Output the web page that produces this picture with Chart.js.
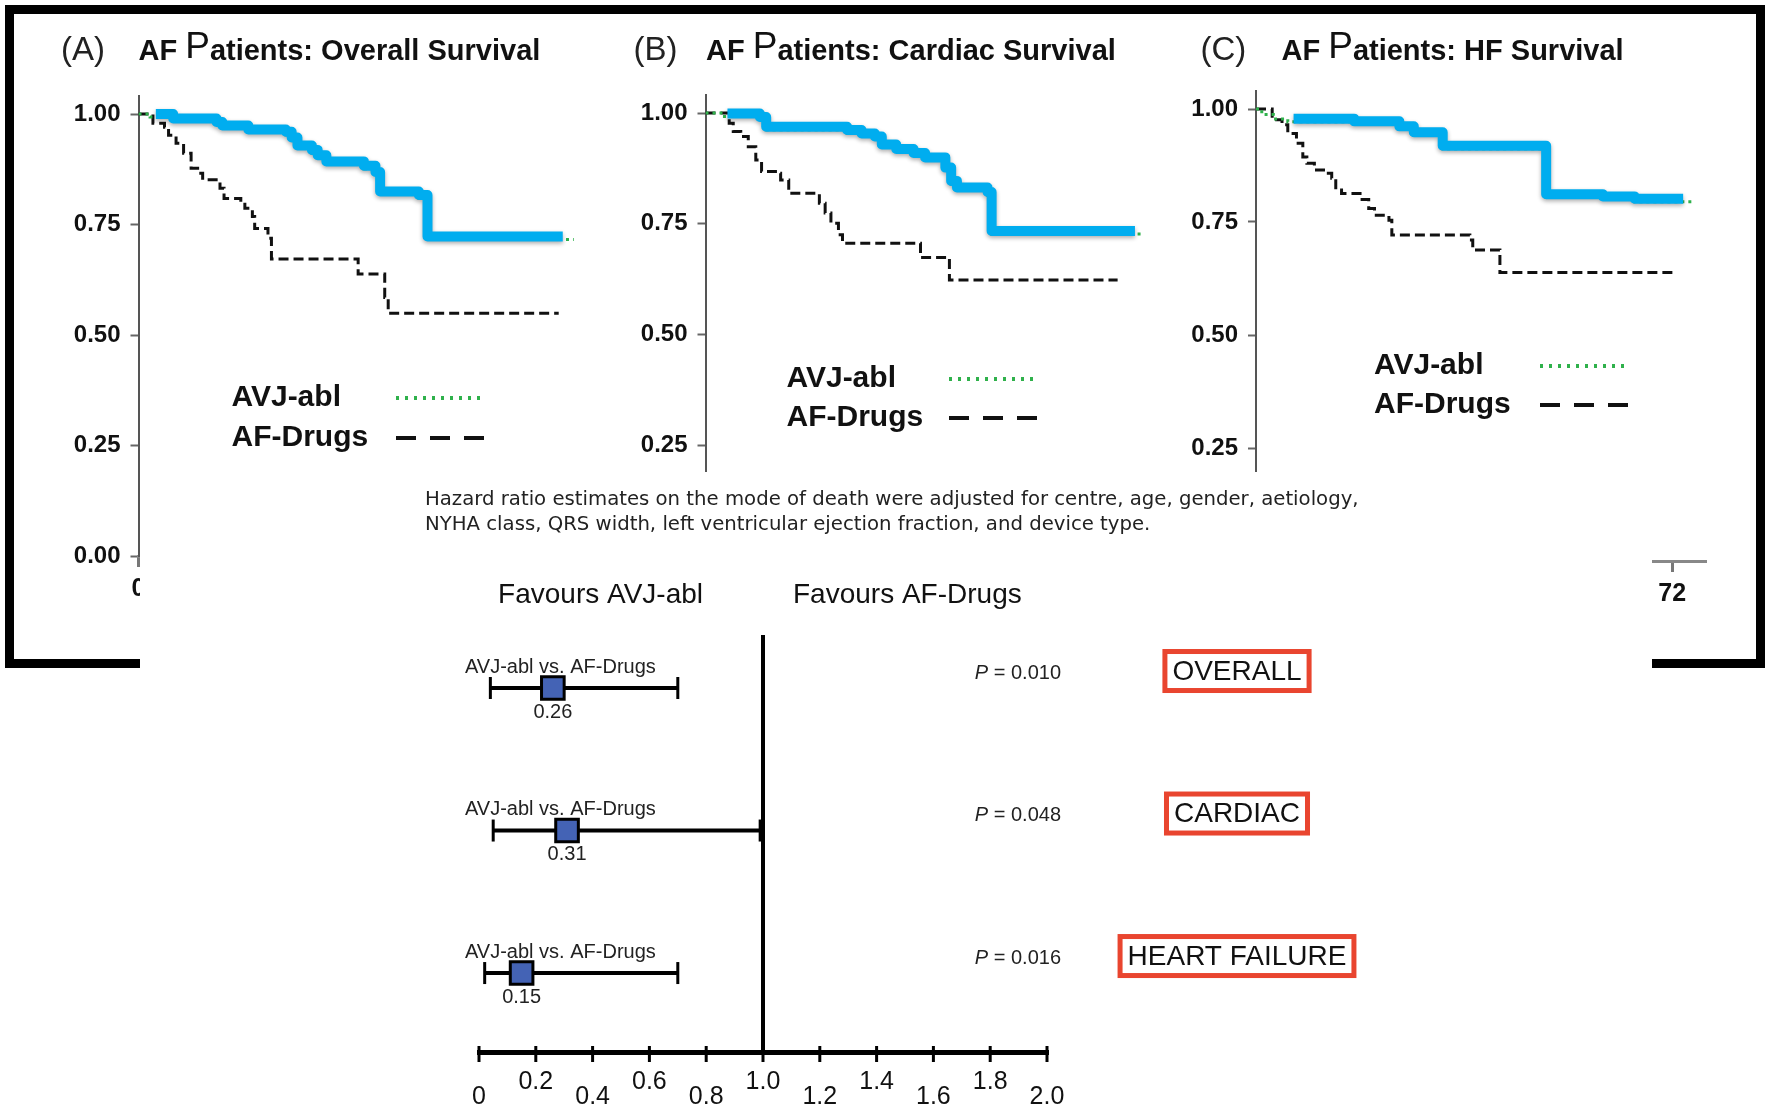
<!DOCTYPE html>
<html>
<head>
<meta charset="utf-8">
<script src="https://cdn.jsdelivr.net/npm/chart.js@4.4.1/dist/chart.umd.min.js"></script>
<style>
  html, body { margin: 0; padding: 0; background: #fff; }
  body { width: 1765px; height: 1111px; position: relative; overflow: hidden; }
  canvas { position: absolute; left: 0; top: 0; }
  .km { z-index: 1; }
  #frame { position: absolute; left: 5px; top: 5px; width: 1760px; height: 663px;
           border: 9px solid #000; box-sizing: border-box; z-index: 2; }
  #inset { position: absolute; left: 140px; top: 472px; width: 1512px; height: 639px;
           background: #fff; z-index: 3; }
  #forest { z-index: 4; }
</style>
</head>
<body>
<canvas id="km-a" class="km" width="1765" height="1111"></canvas>
<canvas id="km-b" class="km" width="1765" height="1111"></canvas>
<canvas id="km-c" class="km" width="1765" height="1111"></canvas>
<div id="frame"></div>
<div id="inset"></div>
<canvas id="forest" width="1765" height="1111"></canvas>
<script>
// ---------- Kaplan-Meier curves: [month, survival] at each step ----------
const overallAvj = [[0,1.0],[2,0.993],[6,0.983],[13.5,0.975],[14.5,0.967],[19,0.958],[25.5,0.953],
  [26.5,0.94],[27.5,0.922],[30,0.912],[31,0.90],[32.5,0.886],[39,0.876],[41,0.862],[41.8,0.818],
  [48.5,0.81],[50,0.716],[75.3,0.716]];
const overallDrugs = [[0,1.0],[2.5,0.979],[4.5,0.97],[5.2,0.952],[6.5,0.934],[7.8,0.911],[9.1,0.877],
  [10.5,0.866],[11.1,0.851],[14.1,0.832],[14.8,0.809],[17.7,0.80],[18.4,0.787],[19.7,0.768],[20.1,0.741],
  [22.4,0.719],[23,0.672],[38,0.638],[42.6,0.585],[43.2,0.549],[72.7,0.549]];
const cardiacAvj = [[0,1.0],[3,0.992],[9.4,0.984],[10.5,0.962],[24.5,0.955],[27,0.947],[29.3,0.94],
  [30.5,0.922],[33,0.912],[36,0.903],[38,0.893],[41.5,0.87],[42.5,0.84],[43.5,0.825],[48.8,0.815],
  [49.5,0.727],[75.6,0.727]];
const cardiacDrugs = [[0,1.0],[4.1,0.977],[4.8,0.958],[6.1,0.947],[7.4,0.924],[8.7,0.894],[9.7,0.868],
  [12.1,0.864],[13,0.849],[14.4,0.819],[19.7,0.796],[20.7,0.774],[21.7,0.751],[23,0.725],[23.7,0.706],
  [37.2,0.674],[42.2,0.623],[71.3,0.623]];
const hfAvj = [[0,1.0],[1,0.988],[3,0.978],[5.5,0.972],[17,0.966],[24.8,0.955],[27.3,0.942],[32.3,0.912],
  [50.2,0.805],[60,0.80],[65.5,0.795],[75.9,0.795]];
const hfDrugs = [[0,1.0],[2.8,0.976],[4.5,0.965],[5.5,0.946],[7,0.924],[8.1,0.894],[8.8,0.88],[10.1,0.865],
  [12.1,0.858],[13.1,0.847],[13.8,0.821],[14.8,0.813],[18,0.80],[19.5,0.78],[20.5,0.765],[23,0.754],
  [23.5,0.721],[37,0.71],[37.5,0.688],[42.2,0.638],[72.2,0.638]];

// months covered by the highlighted AVJ-abl trace in each panel
const overallHighlight = [3, 73.4];
const cardiacHighlight = [3.8, 74.3];
const hfHighlight = [6.5, 73.9];

const panelTags = ['(A)', '(B)', '(C)'];
const panelTitles = ['AF Patients: Overall Survival', 'AF Patients: Cardiac Survival', 'AF Patients: HF Survival'];
const seriesNames = ['AVJ-abl', 'AF-Drugs'];
const monthMax = 78;
const monthStep = 12;
const survivalMax = 1.04;
const survivalStep = 0.25;

// ---------- Hazard ratios ----------
const endpoints = ['OVERALL', 'CARDIAC', 'HEART FAILURE'];
const comparison = 'AVJ-abl vs. AF-Drugs';
const hazardRatio = [0.26, 0.31, 0.15];
const ciLow = [0.04, 0.05, 0.02];
const ciHigh = [0.70, 0.99, 0.70];
const pValues = ['0.010', '0.048', '0.016'];
const favourLabels = ['Favours AVJ-abl', 'Favours AF-Drugs'];
const hrMax = 2.0;
const hrStep = 0.2;
const captionLines = [
  'Hazard ratio estimates on the mode of death were adjusted for centre, age, gender, aetiology,',
  'NYHA class, QRS width, left ventricular ejection fraction, and device type.'
];

// ---------- styling ----------
const FAMILY = "'Liberation Sans', Arial, Helvetica, sans-serif";
const NOTE_FAMILY = "'DejaVu Sans', Verdana, sans-serif";
const BLUE = '#00adef';
const GREEN = '#2fb14b';
const INK = '#111';
Chart.defaults.font.family = FAMILY;

// step path: hold the previous survival until each event time
function stepPath(series) {
  const pts = [];
  series.forEach(([t, s], i) => {
    if (i > 0) pts.push({ x: t, y: series[i - 1][1] });
    pts.push({ x: t, y: s });
  });
  return pts;
}
// part of a step curve between two months
function clipSeries(series, [t0, t1]) {
  const valueAt = t => { let v = series[0][1]; series.forEach(([x, y]) => { if (x <= t) v = y; }); return v; };
  const out = [[t0, valueAt(t0)]];
  series.forEach(([x, y]) => { if (x > t0 && x < t1) out.push([x, y]); });
  out.push([t1, valueAt(t1)]);
  return out;
}

const panelTitle = {
  id: 'panelTitle',
  afterDraw(chart, args, o) {
    const { ctx, chartArea } = chart;
    ctx.save();
    ctx.textBaseline = 'alphabetic';
    ctx.textAlign = 'left';
    ctx.fillStyle = '#222';
    ctx.font = `33px ${FAMILY}`;
    ctx.fillText(o.tag, chartArea.left + o.tagDx, o.baseline);
    const t = o.title;
    const parts = [
      { text: t.slice(0, 3), font: `bold 29px ${FAMILY}`, dy: 0 },
      { text: t.slice(3, 4), font: `37px ${FAMILY}`, dy: -2 },
      { text: t.slice(4), font: `bold 29px ${FAMILY}`, dy: 0 }
    ];
    let x = chartArea.left + o.titleDx;
    ctx.fillStyle = INK;
    parts.forEach(p => {
      ctx.font = p.font;
      ctx.fillText(p.text, x, o.baseline + p.dy);
      x += ctx.measureText(p.text).width;
    });
    ctx.restore();
  }
};

const kmLegend = {
  id: 'kmLegend',
  afterDraw(chart, args, o) {
    const { ctx, chartArea } = chart;
    const x0 = chartArea.left + o.dx;
    const samples = [
      { ds: chart.data.datasets[1], dash: [3, 6] },
      { ds: chart.data.datasets[2], dash: [20, 14] }
    ];
    ctx.save();
    samples.forEach((s, i) => {
      const y = o.top + i * o.gap;
      ctx.font = `bold 30px ${FAMILY}`;
      ctx.fillStyle = INK;
      ctx.textBaseline = 'middle';
      ctx.textAlign = 'left';
      ctx.fillText(s.ds.label, x0, y);
      ctx.beginPath();
      ctx.setLineDash(s.dash);
      ctx.lineWidth = 4;
      ctx.strokeStyle = s.ds.borderColor;
      ctx.moveTo(x0 + o.sampleDx, y);
      ctx.lineTo(x0 + o.sampleDx + 90, y);
      ctx.stroke();
    });
    ctx.restore();
  }
};

// the highlighted AVJ-abl trace sits slightly above the dotted curve, with a soft shadow
const highlightShadow = {
  id: 'highlightShadow',
  beforeDatasetDraw(chart, args) {
    if (args.index !== 0) return;
    const c = chart.ctx;
    c.save();
    c.translate(0, -3);
    c.shadowColor = 'rgba(0,0,0,0.32)';
    c.shadowBlur = 4;
    c.shadowOffsetY = 2;
  },
  afterDatasetDraw(chart, args) {
    if (args.index !== 0) return;
    chart.ctx.restore();
  }
};

function kmChart(id, g) {
  const right = g.axisX + g.pxPerMonth * monthMax;
  const yTop = g.zeroY - g.unitPx * survivalMax;
  return new Chart(document.getElementById(id), {
    type: 'line',
    data: {
      datasets: [
        { label: seriesNames[0] + ' highlight', data: stepPath(clipSeries(g.avj, g.span)),
          borderColor: BLUE, borderWidth: 10, borderJoinStyle: 'round', borderCapStyle: 'butt',
          pointRadius: 0, fill: false },
        { label: seriesNames[0], data: stepPath(g.avj), borderColor: GREEN, borderWidth: 3,
          borderDash: [3, 4], pointRadius: 0, fill: false },
        { label: seriesNames[1], data: stepPath(g.drugs), borderColor: INK, borderWidth: 3,
          borderDash: [10, 5], pointRadius: 0, fill: false }
      ]
    },
    options: {
      responsive: false, animation: false, devicePixelRatio: 1, events: [],
      layout: { padding: { left: g.axisX - 100, right: 1765 - right, top: yTop, bottom: 1111 - g.zeroY - 60 } },
      scales: {
        x: {
          type: 'linear', min: 0, max: monthMax,
          afterFit: s => { s.height = 60; },
          ticks: { stepSize: monthStep, includeBounds: false, maxRotation: 0, padding: 7,
                   color: INK, font: { size: 25, weight: 'bold' } },
          grid: { drawOnChartArea: false, drawTicks: true, tickLength: 11, tickColor: '#777', tickWidth: 3 },
          border: { color: '#888', width: 3 }
        },
        y: {
          type: 'linear', min: 0, max: survivalMax,
          afterFit: s => { s.width = 100; },
          ticks: { stepSize: survivalStep, includeBounds: false, padding: 10, color: INK,
                   font: { size: 24, weight: 'bold' }, callback: v => v.toFixed(2) },
          grid: { drawOnChartArea: false, drawTicks: true, tickLength: 8, tickColor: '#666', tickWidth: 2 },
          border: { color: '#555', width: 2 }
        }
      },
      plugins: {
        legend: { display: false }, tooltip: { enabled: false },
        panelTitle: { tag: g.tag, title: g.title, tagDx: g.tagDx, titleDx: g.titleDx, baseline: 60 },
        kmLegend: g.legend
      }
    },
    plugins: [highlightShadow, panelTitle, kmLegend]
  });
}

kmChart('km-a', { axisX: 138.5, zeroY: 556, unitPx: 442, pxPerMonth: 5.78,
  avj: overallAvj, drugs: overallDrugs, span: overallHighlight,
  tag: panelTags[0], title: panelTitles[0], tagDx: -77.5, titleDx: 0,
  legend: { dx: 93, top: 398, gap: 40, sampleDx: 164.5 } });
kmChart('km-b', { axisX: 705.5, zeroY: 556, unitPx: 443, pxPerMonth: 5.78,
  avj: cardiacAvj, drugs: cardiacDrugs, span: cardiacHighlight,
  tag: panelTags[1], title: panelTitles[1], tagDx: -72, titleDx: 0.5,
  legend: { dx: 81, top: 379, gap: 39, sampleDx: 162.5 } });
kmChart('km-c', { axisX: 1256, zeroY: 561, unitPx: 452, pxPerMonth: 5.78,
  avj: hfAvj, drugs: hfDrugs, span: hfHighlight,
  tag: panelTags[2], title: panelTitles[2], tagDx: -55.5, titleDx: 25.5,
  legend: { dx: 118, top: 366, gap: 39, sampleDx: 166 } });

// ---------- forest plot ----------
const forestNotes = {
  id: 'forestNotes',
  afterDraw(chart) {
    const { ctx, chartArea } = chart;
    const x = chart.scales.x, y = chart.scales.y;
    ctx.save();
    // tick marks crossing the value axis
    ctx.strokeStyle = '#000';
    ctx.lineWidth = 3;
    x.ticks.forEach(t => {
      const px = x.getPixelForValue(t.value);
      ctx.beginPath();
      ctx.moveTo(px, chartArea.bottom - 6);
      ctx.lineTo(px, chartArea.bottom + 10);
      ctx.stroke();
    });
    ctx.textBaseline = 'middle';
    // adjustment note
    ctx.fillStyle = '#222';
    ctx.textAlign = 'left';
    ctx.font = `19.7px ${NOTE_FAMILY}`;
    captionLines.forEach((line, i) => ctx.fillText(line, 425, 500 + i * 25));
    // direction labels either side of HR = 1
    const ref = x.getPixelForValue(1);
    ctx.fillStyle = INK;
    ctx.font = `28px ${FAMILY}`;
    ctx.textAlign = 'right';
    ctx.fillText(favourLabels[0], ref - 60, 595);
    ctx.textAlign = 'left';
    ctx.fillText(favourLabels[1], ref + 30, 595);
    // per-row annotations
    endpoints.forEach((name, i) => {
      const ry = y.getPixelForValue(i);
      ctx.fillStyle = '#222';
      ctx.font = `20px ${FAMILY}`;
      ctx.textAlign = 'left';
      ctx.fillText(comparison, 465, ry - 21);
      ctx.textAlign = 'center';
      ctx.fillText(hazardRatio[i].toFixed(2), x.getPixelForValue(hazardRatio[i]), ry + 24);
      // P value, right-aligned, italic P
      const rest = ' = ' + pValues[i];
      const restW = ctx.measureText(rest).width;
      const pRight = 1061;
      const py = ry - 15;
      ctx.textAlign = 'left';
      ctx.fillText(rest, pRight - restW, py);
      ctx.font = `italic 20px ${FAMILY}`;
      const pW = ctx.measureText('P').width;
      ctx.fillText('P', pRight - restW - pW, py);
      // endpoint box
      ctx.font = `28px ${FAMILY}`;
      const w = ctx.measureText(name).width + 20;
      const h = 44;
      const cx = 1237, cy = ry - 17;
      ctx.strokeStyle = '#e9452f';
      ctx.lineWidth = 5;
      ctx.strokeRect(cx - w / 2 + 2.5, cy - h / 2 + 2.5, w - 5, h - 5);
      ctx.fillStyle = INK;
      ctx.textAlign = 'center';
      ctx.fillText(name, cx, cy + 1);
    });
    ctx.restore();
  }
};

new Chart(document.getElementById('forest'), {
  type: 'scatter',
  data: {
    datasets: [
      { label: 'Hazard ratio', data: hazardRatio.map((v, i) => ({ x: v, y: i })),
        pointStyle: 'rect', pointRadius: 16, pointBackgroundColor: '#4463b5',
        pointBorderColor: '#000', pointBorderWidth: 3, showLine: false },
      ...endpoints.map((name, i) => ({
        label: name + ' 95% CI',
        data: [{ x: ciLow[i], y: i }, { x: ciHigh[i], y: i }],
        showLine: true, borderColor: '#000', borderWidth: 4,
        pointStyle: 'line', pointRotation: 90, pointRadius: 11,
        pointBorderColor: '#000', pointBorderWidth: 3
      }))
    ]
  },
  options: {
    responsive: false, animation: false, devicePixelRatio: 1, events: [],
    layout: { padding: { left: 479, right: 1765 - 1047, top: 635, bottom: 0 } },
    scales: {
      x: {
        type: 'linear', min: 0, max: hrMax,
        afterFit: s => { s.height = 59; },
        ticks: {
          stepSize: hrStep, autoSkip: false, maxRotation: 0, minRotation: 0, padding: 22.5,
          color: INK, font: { size: 25, lineHeight: 0.6 },
          callback: (v, i) => {
            const t = v === 0 ? '0' : v.toFixed(1);
            return i % 2 ? [t, ''] : ['', t];
          }
        },
        grid: {
          drawTicks: false, drawOnChartArea: true,
          color: c => (c.tick && Math.abs(c.tick.value - 1) < 1e-6) ? '#000' : 'rgba(0,0,0,0)',
          lineWidth: 4
        },
        border: { color: '#000', width: 5 }
      },
      y: { type: 'linear', display: false, reverse: true, min: -0.372, max: 2.554 }
    },
    plugins: { legend: { display: false }, tooltip: { enabled: false } }
  },
  plugins: [forestNotes]
});
</script>
</body>
</html>
